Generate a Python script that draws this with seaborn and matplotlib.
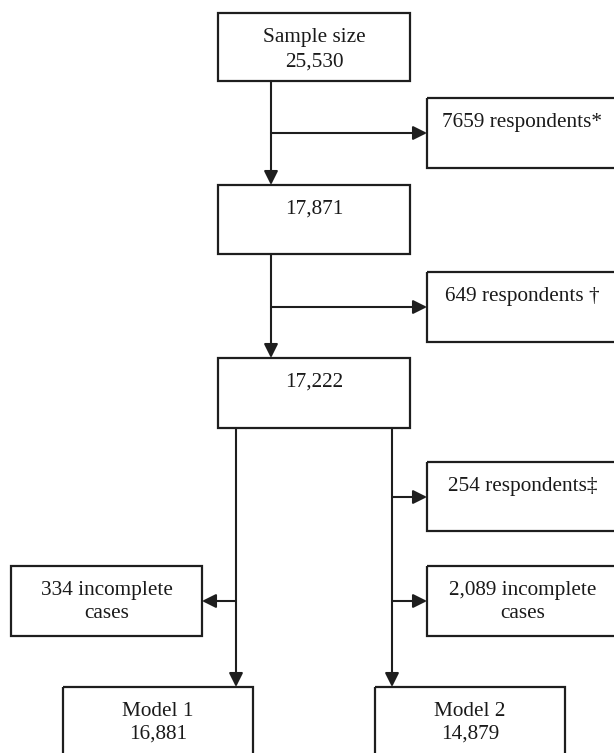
import matplotlib
matplotlib.use("Agg")
import matplotlib.pyplot as plt
from matplotlib.patches import Rectangle
import seaborn as sns

# ---- data (flow counts / labels) ----
main_labels = [["Sample size", "25,530"], ["17,871"], ["17,222"]]
excluded_labels = [["7659 respondents*"], ["649 respondents \u2020"], ["254 respondents\u2021"]]
incomplete_labels = [["334 incomplete", "cases"], ["2,089 incomplete", "cases"]]
model_labels = [["Model 1", "16,881"], ["Model 2", "14,879"]]

sns.set_theme(style="white")
plt.rcParams["font.family"] = ["Liberation Serif", "DejaVu Serif"]

W, H = 614, 753
fig = plt.figure(figsize=(W / 100, H / 100), dpi=100)
ax = fig.add_axes([0, 0, 1, 1])
ax.set_xlim(0, W)
ax.set_ylim(H, 0)
ax.axis("off")

EC = "#1e1e1e"
LW = 1.6
FS = 15.3


def box(x0, y0, x1, y1, lines, line_gap=24):
    ax.add_patch(Rectangle((x0, y0), x1 - x0, y1 - y0, fill=False,
                           ec=EC, lw=LW, clip_on=True, joinstyle="miter"))
    cx = (x0 + x1) / 2
    for i, t in enumerate(lines):
        ax.text(cx, y0 + 28.5 + i * line_gap, t, ha="center", va="baseline",
                fontsize=FS, color="#1a1a1a")


def arrow(x0, y0, x1, y1):
    ax.annotate("", xy=(x1, y1), xytext=(x0, y0),
                arrowprops=dict(arrowstyle="-|>,head_length=0.6,head_width=0.3",
                                mutation_scale=14, color=EC, lw=1.5,
                                shrinkA=0, shrinkB=0))


# main column boxes
main_geom = [(218, 13, 410, 81), (218, 185, 410, 254), (218, 358, 410, 428)]
for (g, lab) in zip(main_geom, main_labels):
    box(*g, lab, line_gap=25.5)

# excluded boxes on right
excl_geom = [(427, 98, 618, 168), (427, 272, 618, 342), (427, 462, 618, 531)]
for (g, lab) in zip(excl_geom, excluded_labels):
    box(*g, lab)

# incomplete cases boxes
inc_geom = [(11, 566, 202, 636), (427, 566, 618, 636)]
for (g, lab) in zip(inc_geom, incomplete_labels):
    box(*g, lab, line_gap=23.5)

# model boxes
model_geom = [(63, 687, 253, 770), (375, 687, 565, 770)]
for (g, lab) in zip(model_geom, model_labels):
    box(*g, lab, line_gap=23.5)

# connectors
arrow(271, 81, 271, 185)
arrow(271, 133, 427, 133)
arrow(271, 254, 271, 358)
arrow(271, 307, 427, 307)
arrow(236, 428, 236, 687)
arrow(392, 428, 392, 687)
arrow(392, 497, 427, 497)
arrow(392, 601, 427, 601)
arrow(236, 601, 202, 601)

fig.savefig("out.png", dpi=100, facecolor="white")
